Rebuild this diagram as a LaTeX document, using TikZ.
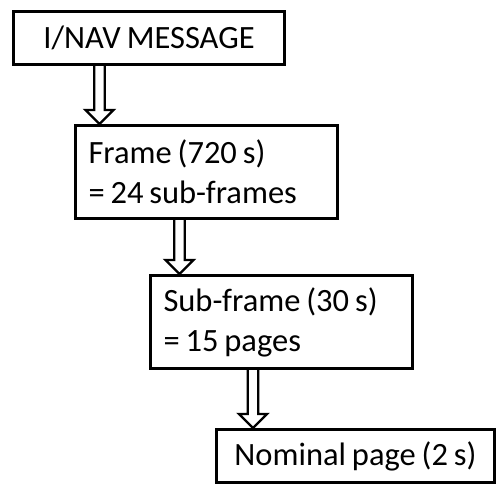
\documentclass[tikz,border=0pt]{standalone}
\usepackage{fontspec}
\setmainfont[WordSpace=0.8]{Carlito}
\usetikzlibrary{calc}
\begin{document}
\begin{tikzpicture}[x=1pt,y=-1pt,
  box/.style={draw=black, line width=3pt, fill=white, rectangle, outer sep=0pt,
    inner ysep=0pt, font=\fontsize{32.5}{40}\selectfont, anchor=north west},
  leftbox/.style={box, text width=236pt, inner xsep=13pt, align=flush left,
    minimum height=93pt},
  blockarrow/.style={draw=black, line width=2.4pt, fill=white, line join=miter}]
\useasboundingbox (0,0) rectangle (498,483);

\node[box, minimum width=271pt, minimum height=53pt, inner xsep=0pt] (inav) at (13.5,11.5) {I/NAV MESSAGE};
\node[leftbox] (frame) at (75.5,125.5) {Frame (720 s)\\= 24 sub-frames};
\node[leftbox] (subframe) at (150.5,275.5) {Sub-frame (30 s)\\= 15 pages};
\node[box, minimum width=278pt, minimum height=53pt, inner xsep=0pt] (page) at (216.5,429.5) {Nominal page (2 s)};

\coordinate (s1) at ($(inav.south west)+(86,1.5)$);
\coordinate (t1) at ($(frame.north west)+(0,-1.5)$);
\coordinate (s2) at ($(frame.south west)+(104,1.5)$);
\coordinate (t2) at ($(subframe.north west)+(0,-1.5)$);
\coordinate (s3) at ($(subframe.south west)+(102.5,1.5)$);
\coordinate (t3) at ($(page.north west)+(0,-1.5)$);

\foreach \s/\t in {s1/t1,s2/t2,s3/t3}{
  \draw[blockarrow] let \p1=(\s), \p2=(\t) in
    (\x1-5.25pt,\y1) -- (\x1-5.25pt,\y2+14pt) -- (\x1-14pt,\y2+14pt) -- (\x1,\y2)
    -- (\x1+14pt,\y2+14pt) -- (\x1+5.25pt,\y2+14pt) -- (\x1+5.25pt,\y1);
}
\end{tikzpicture}
\end{document}
